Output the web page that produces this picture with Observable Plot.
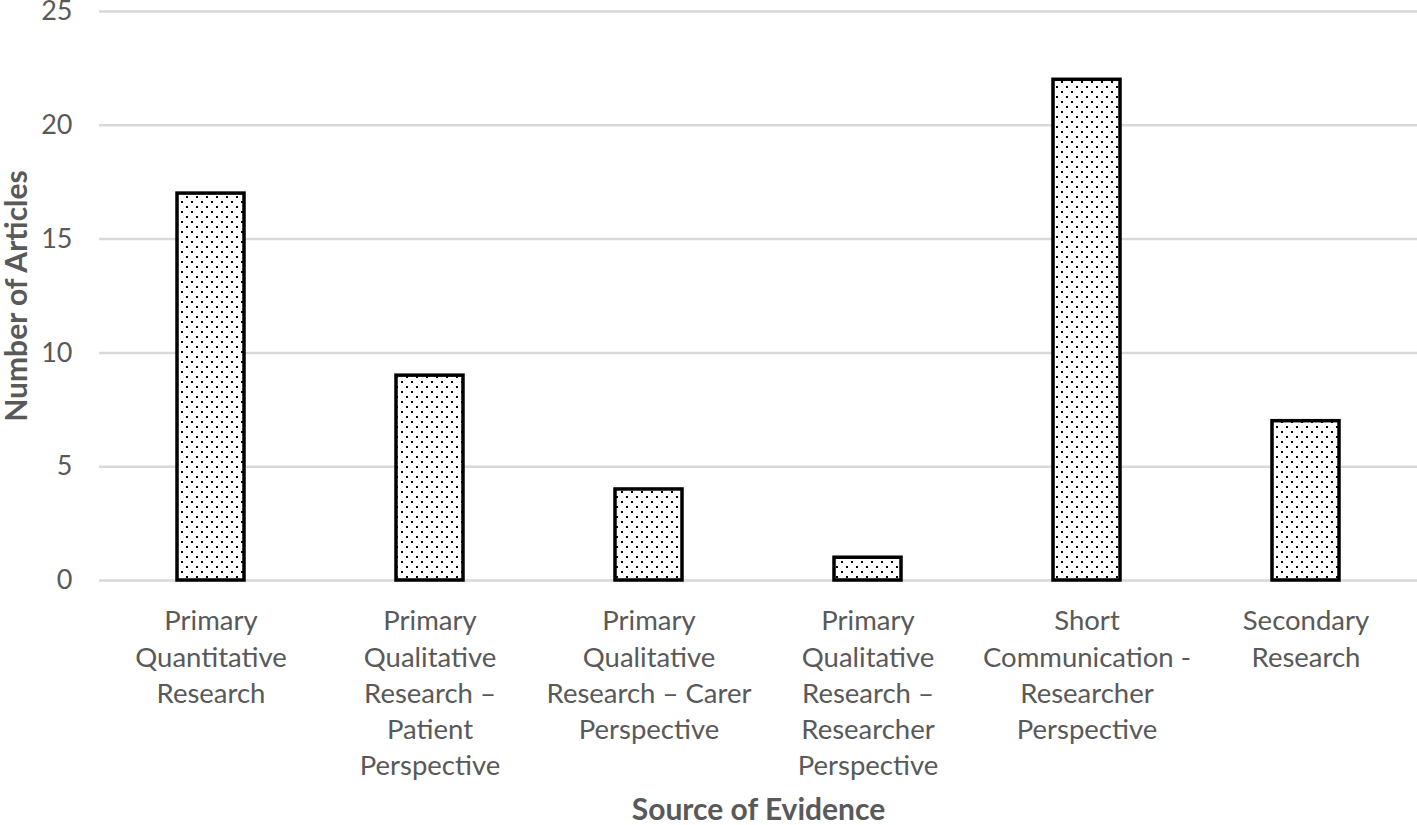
<!DOCTYPE html>
<html>
<head>
<meta charset="utf-8">
<script src="https://cdn.jsdelivr.net/npm/d3@7"></script>
<script src="https://cdn.jsdelivr.net/npm/@observablehq/plot@0.6"></script>
<style>
  html, body { margin: 0; padding: 0; background: #fff; }
  #chart { width: 1417px; height: 825px; }
</style>
</head>
<body>
<div id="chart"></div>
<script>
const categories = [
  "Primary\nQuantitative\nResearch",
  "Primary\nQualitative\nResearch –\nPatient\nPerspective",
  "Primary\nQualitative\nResearch – Carer\nPerspective",
  "Primary\nQualitative\nResearch –\nResearcher\nPerspective",
  "Short\nCommunication -\nResearcher\nPerspective",
  "Secondary\nResearch"
];
const counts = [17, 9, 4, 1, 22, 7];
const yTicks = [0, 5, 10, 15, 20, 25];
const xTitle = "Source of Evidence";
const yTitle = "Number of Articles";

const data = categories.map((c, i) => ({category: c, count: counts[i]}));
const font = "Lato, 'Open Sans', sans-serif";

const chart = Plot.plot({
  width: 1417,
  height: 825,
  marginLeft: 99,
  marginRight: 0,
  marginTop: 11,
  marginBottom: 245,
  style: {fontFamily: font, background: "#fff"},
  x: {domain: categories, paddingInner: 0.695, paddingOuter: 0.3475, axis: null},
  y: {domain: [0, 25], axis: null},
  marks: [
    Plot.ruleY(yTicks, {stroke: "#d9d9d9", strokeWidth: 2.5}),
    Plot.barY(data, {x: "category", y: "count", fill: "url(#dots)", stroke: "#000", strokeWidth: 3.5}),
    Plot.axisY(yTicks, {tickSize: 0, tickPadding: 27, fontSize: 27, fill: "#595959", label: null}),
    Plot.axisX({tickSize: 0, tickPadding: 24, fontSize: 27.5, lineHeight: 1.32, fill: "#595959", label: null}),
    Plot.text([yTitle], {frameAnchor: "left", textAnchor: "middle", rotate: -90, dx: -82, fontSize: 30, fontWeight: "bold", fill: "#595959"}),
    Plot.text([xTitle], {frameAnchor: "bottom", textAnchor: "middle", dy: 239, fontSize: 30, fontWeight: "bold", fill: "#595959"})
  ]
});

const ns = "http://www.w3.org/2000/svg";
const defs = document.createElementNS(ns, "defs");
defs.innerHTML = `<pattern id="dots" patternUnits="userSpaceOnUse" width="10" height="10">
  <rect width="10" height="10" fill="#fff"/>
  <rect x="1" y="1" width="2" height="2" fill="#000"/>
  <rect x="6" y="6" width="2" height="2" fill="#000"/>
</pattern>`;
chart.insertBefore(defs, chart.firstChild);
document.getElementById("chart").appendChild(chart);
</script>
</body>
</html>
